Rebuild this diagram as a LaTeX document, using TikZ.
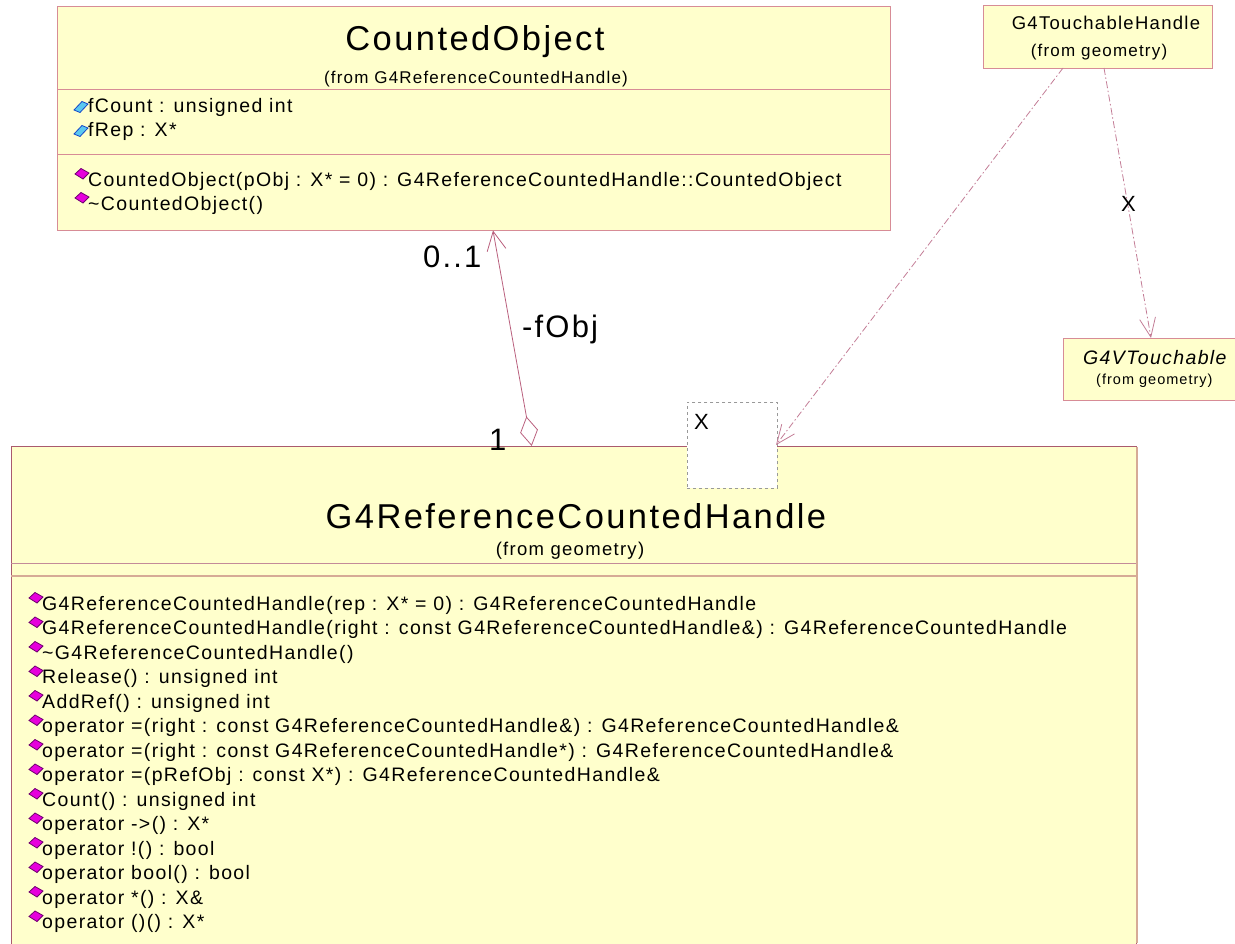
\documentclass[tikz,border=0pt]{standalone}
\usepackage{fontspec}
\setmainfont{Liberation Sans}
\newfontfamily\umlf[LetterSpace=7]{Liberation Sans}
\usetikzlibrary{arrows.meta}
\definecolor{umlfill}{RGB}{255,255,204}
\definecolor{umlborder}{RGB}{170,90,110}
\definecolor{umlpink}{RGB}{215,140,150}
\definecolor{umlsep}{RGB}{214,170,150}
\definecolor{conn}{RGB}{185,95,125}
\definecolor{depc}{RGB}{195,125,150}
\definecolor{methfill}{RGB}{230,0,220}
\definecolor{methedge}{RGB}{110,0,110}
\definecolor{attrfill}{RGB}{90,200,240}
\definecolor{attredge}{RGB}{20,70,200}
\newcommand{\umlsz}[1]{\umlf\fontsize{#1}{#1}\selectfont}
\newcommand{\mrow}[4]{\pic at (#2-6,#3-12) {meth}; \node[txt] (#1) at (#2,#3) {#4};}
\newcommand{\arow}[4]{\pic at (#2-7,#3-5) {attr}; \node[txt] (#1) at (#2,#3) {#4};}
\begin{document}
\begin{tikzpicture}[x=1pt,y=-1pt,
  classbox/.style={draw=umlpink, fill=umlfill, line width=1pt, inner sep=0pt, anchor=north west},
  mainbox/.style={draw=umlborder, fill=umlfill, line width=1.2pt, inner sep=0pt, anchor=north west},
  tmplbox/.style={draw=gray!80, dashed, fill=white, line width=0.8pt, inner sep=0pt, anchor=north west},
  txt/.style={inner sep=0pt, anchor=base west, font=\umlsz{19.5}},
  bigtitle/.style={inner sep=0pt, anchor=base, font=\umlsz{34.5}},
  fromtxt/.style={inner sep=0pt, anchor=base, font=\umlsz{17}},
  multlbl/.style={inner sep=0pt, anchor=base west, font=\umlsz{31}},
  sep/.style={draw=umlpink, line width=1pt},
  aggr/.style={draw=conn, line width=0.8pt, {Diamond[open,length=30pt,width=18pt]}-{Straight Barb[length=19pt,width=19pt]}},
  depend/.style={draw=depc, line width=0.8pt, dash pattern=on 7pt off 2.5pt on 1.5pt off 2.5pt, -{Straight Barb[length=19pt,width=16pt]}},
  meth/.pic={\filldraw[fill=methfill, draw=methedge, line width=0.8pt] (-7,0) -- (-1,-5.5) -- (7,-1) -- (1,5) -- cycle;},
  attr/.pic={\filldraw[fill=attrfill, draw=attredge, line width=0.8pt] (-7,3) -- (1,-5.5) -- (7,-3) -- (-1,5.5) -- cycle;}
]
\useasboundingbox (0,0) rectangle (1235,943);
\clip (0,0) rectangle (1235,943);

% ---------- CountedObject ----------
\node[classbox, minimum width=833pt, minimum height=224pt] (co) at (57,6) {};
\draw[sep] (57,89) -- (890,89);
\draw[sep] (57,154) -- (890,154);
\node[bigtitle] (cot) at (475,50) {CountedObject};
\node[fromtxt] (cof) at (476,83) {(from G4ReferenceCountedHandle)};
\arow{coa1}{88}{112}{fCount : unsigned int}
\arow{coa2}{88}{136}{fRep : X*}
\mrow{com1}{88}{186}{CountedObject(pObj : X* = 0) : G4ReferenceCountedHandle::CountedObject}
\mrow{com2}{88}{210}{\textasciitilde CountedObject()}

% ---------- G4TouchableHandle ----------
\node[classbox, minimum width=229pt, minimum height=63pt] (th) at (983,5) {};
\node[fromtxt, font=\umlsz{18.5}] (tht) at (1106,29) {G4TouchableHandle};
\node[fromtxt, font=\umlsz{17}] (thf) at (1099,56) {(from geometry)};

% ---------- G4VTouchable ----------
\node[classbox, minimum width=200pt, minimum height=62pt] (vt) at (1063,338) {};
\node[txt, font=\umlsz{19.5}\itshape] (vtt) at (1083,364) {G4VTouchable};
\node[txt, font=\umlsz{14.5}] (vtf) at (1096,384) {(from geometry)};

% ---------- G4ReferenceCountedHandle ----------
\node[mainbox, minimum width=1125pt, minimum height=520pt] (main) at (11,446) {};
\draw[umlsep, line width=2pt] (1137,447) -- (1137,943);
\draw[draw=umlborder!70, line width=1pt] (11,563) -- (1136,563);
\draw[umlsep, line width=2pt] (11,576) -- (1136,576);
\node[bigtitle] (mt) at (576,528) {G4ReferenceCountedHandle};
\node[fromtxt, font=\umlsz{18.5}] (mf) at (570,555) {(from geometry)};
\mrow{m1}{42}{610}{G4ReferenceCountedHandle(rep : X* = 0) : G4ReferenceCountedHandle}
\mrow{m2}{42}{634.5}{G4ReferenceCountedHandle(right : const G4ReferenceCountedHandle\&) : G4ReferenceCountedHandle}
\mrow{m3}{42}{659}{\textasciitilde G4ReferenceCountedHandle()}
\mrow{m4}{42}{683.5}{Release() : unsigned int}
\mrow{m5}{42}{708}{AddRef() : unsigned int}
\mrow{m6}{42}{732.5}{operator =(right : const G4ReferenceCountedHandle\&) : G4ReferenceCountedHandle\&}
\mrow{m7}{42}{757}{operator =(right : const G4ReferenceCountedHandle*) : G4ReferenceCountedHandle\&}
\mrow{m8}{42}{781.5}{operator =(pRefObj : const X*) : G4ReferenceCountedHandle\&}
\mrow{m9}{42}{806}{Count() : unsigned int}
\mrow{m10}{42}{830.5}{operator ->() : X*}
\mrow{m11}{42}{855}{operator !() : bool}
\mrow{m12}{42}{879.5}{operator bool() : bool}
\mrow{m13}{42}{904}{operator *() : X\&}
\mrow{m14}{42}{928.5}{operator ()() : X*}

% ---------- template parameter box ----------
\node[tmplbox, minimum width=90pt, minimum height=86pt] (tp) at (687,402) {};
\node[txt, font=\umlsz{22}] (tpx) at (694,429) {X};

% ---------- connectors ----------
\coordinate (aggS) at (531.7,446);
\coordinate (aggE) at (493,230.5);
\draw[aggr] (aggS) -- (aggE);
\node[multlbl] (l01) at (423,267) {0..1};
\node[multlbl] (lfo) at (522,337) {-fObj};
\node[multlbl] (l1) at (489,450) {1};

\coordinate (d1S) at (1063,68);
\coordinate (d1E) at (776,445);
\draw[depend] (d1S) -- (d1E);

\coordinate (d2S) at (1104,68);
\coordinate (d2E) at (1151,338);
\draw[depend] (d2S) -- (d2E);
\node[inner sep=0pt, font=\umlsz{22}] (dx) at (1128.5,204) {X};
\end{tikzpicture}
\end{document}
